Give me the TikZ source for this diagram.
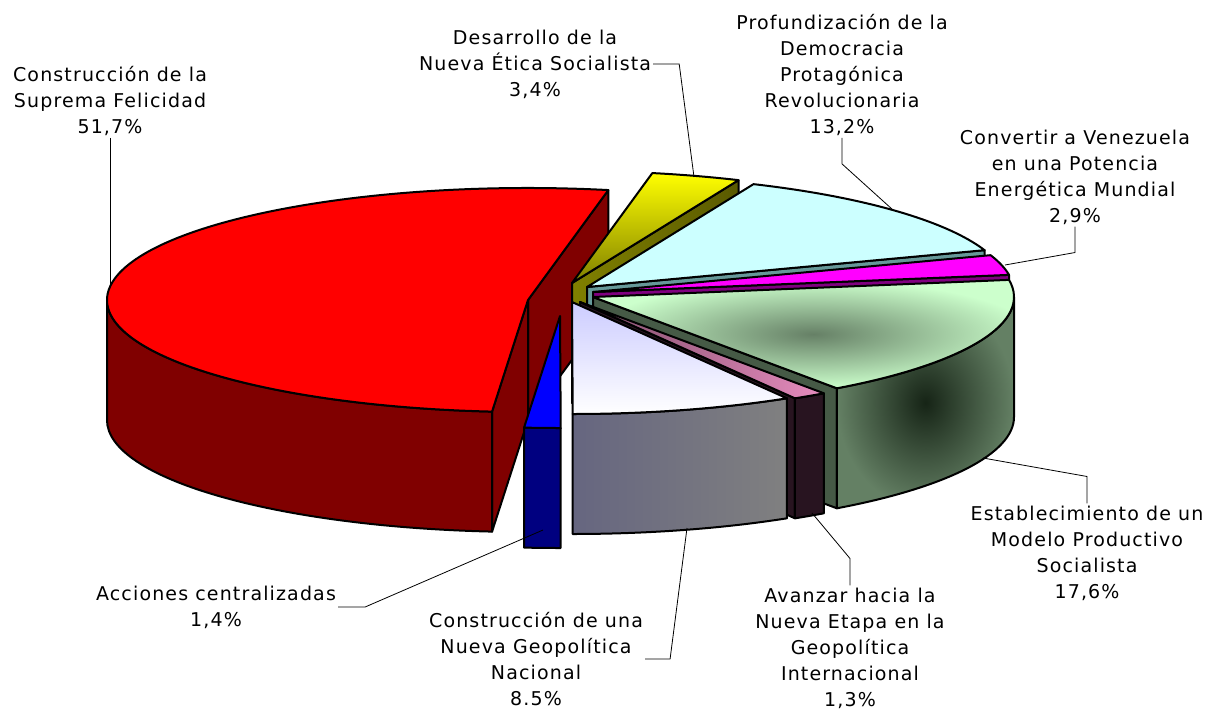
\documentclass[tikz,border=0pt]{standalone}
\usepackage{fontspec}
\newfontfamily\lblfont[LetterSpace=6]{DejaVu Sans}

\definecolor{redtop}{RGB}{255,0,0}
\definecolor{redside}{RGB}{128,0,0}
\definecolor{yeltop}{RGB}{255,255,0}
\definecolor{yelside}{RGB}{128,128,0}
\definecolor{yeldark}{RGB}{90,90,0}
\definecolor{cyantop}{RGB}{204,255,255}
\definecolor{cyanside}{RGB}{102,153,153}
\definecolor{magtop}{RGB}{255,0,255}
\definecolor{magside}{RGB}{128,0,128}
\definecolor{greentop}{RGB}{204,255,204}
\definecolor{greenmid}{RGB}{102,128,102}
\definecolor{greenside}{RGB}{100,128,100}
\definecolor{greendeep}{RGB}{22,36,22}
\definecolor{pinktop}{RGB}{230,140,190}
\definecolor{pinkdark}{RGB}{40,20,32}
\definecolor{pinkmid}{RGB}{128,77,106}
\definecolor{graytop}{RGB}{204,204,255}
\definecolor{grayfrontA}{RGB}{102,102,128}
\definecolor{grayfrontB}{RGB}{128,128,128}
\definecolor{bluetop}{RGB}{0,0,255}
\definecolor{blueside}{RGB}{0,0,128}

\def\pierx{421pt}
\def\piery{112pt}
\def\pieh{120}

\begin{document}
\begin{tikzpicture}[x=1pt, y=-1pt,
    face/.style={draw=black, line width=2pt, line join=round},
    leader/.style={draw=black, line width=0.8pt},
    lbl/.style={font=\lblfont\fontsize{19}{26}\selectfont, align=center, inner sep=2pt}]
        \fill[white] (0,0) rectangle (1207,713);
        \useasboundingbox (0,0) rectangle (1207,713);

        % Construccion de la Suprema Felicidad
        \begin{scope}[shift={(528,300)}]
            \draw[face, fill=redside] (0,0) -- (79:421pt and 112pt) -- ++(0,\pieh) -- (0,\pieh) -- cycle;
            \draw[face, fill=redside] (0,0) -- (265.1:421pt and 112pt) -- ++(0,\pieh) -- (0,\pieh) -- cycle;
            \draw[face, fill=redside] (180:421pt and 112pt) arc[start angle=180, end angle=265.1, x radius=\pierx, y radius=\piery]
                -- ++(0,\pieh) arc[start angle=265.1, end angle=180, x radius=\pierx, y radius=\piery] -- cycle;
            \draw[face, fill=redtop] (0,0) -- (79:421pt and 112pt) arc[start angle=79, end angle=265.1, x radius=\pierx, y radius=\piery] -- cycle;
        \end{scope}

        % Desarrollo de la Nueva Etica Socialista
        \begin{scope}[shift={(572,283)}]
            \draw[face, left color=yelside, right color=yeldark] (0,0) -- (66.7:421pt and 112pt) -- ++(0,\pieh) -- (0,\pieh) -- cycle;
            \draw[face, top color=yeltop, bottom color=yelside] (0,0) -- (66.7:421pt and 112pt) arc[start angle=66.7, end angle=79, x radius=\pierx, y radius=\piery] -- cycle;
        \end{scope}

        % Profundizacion de la Democracia
        \begin{scope}[shift={(587,287)}]
            \draw[face, fill=cyanside] (0,0) -- (19.2:421pt and 112pt) -- ++(0,\pieh) -- (0,\pieh) -- cycle;
            \draw[face, fill=cyantop] (0,0) -- (19.2:421pt and 112pt) arc[start angle=19.2, end angle=66.7, x radius=\pierx, y radius=\piery] -- cycle;
        \end{scope}

        % Convertir a Venezuela en una Potencia
        \begin{scope}[shift={(593,292)}]
            \draw[face, fill=magside] (0,0) -- (8.8:421pt and 112pt) -- ++(0,\pieh) -- (0,\pieh) -- cycle;
            \draw[face, fill=magtop] (0,0) -- (8.8:421pt and 112pt) arc[start angle=8.8, end angle=19.2, x radius=\pierx, y radius=\piery] -- cycle;
        \end{scope}

        % Establecimiento de un Modelo Productivo
        \begin{scope}[shift={(593,297)}]
            \draw[face, fill=greenside!70!black] (0,0) -- (305.4:421pt and 112pt) -- ++(0,\pieh) -- (0,\pieh) -- cycle;
            \draw[face, inner color=greendeep, outer color=greenside] (305.4:421pt and 112pt) arc[start angle=305.4, end angle=360, x radius=\pierx, y radius=\piery]
                -- ++(0,\pieh) arc[start angle=360, end angle=305.4, x radius=\pierx, y radius=\piery] -- cycle;
            \draw[face, inner color=greenmid, outer color=greentop] (0,0) -- (305.4:421pt and 112pt) arc[start angle=305.4, end angle=368.8, x radius=\pierx, y radius=\piery] -- cycle;
        \end{scope}

        % Avanzar hacia la Nueva Etapa
        \begin{scope}[shift={(580,302)}]
            \draw[face, fill=pinkdark] (0,0) -- (300.7:421pt and 112pt) -- ++(0,\pieh) -- (0,\pieh) -- cycle;
            \draw[face, left color=pinkdark, middle color=pinkmid, right color=pinkdark] (300.7:421pt and 112pt) arc[start angle=300.7, end angle=305.4, x radius=\pierx, y radius=\piery]
                -- ++(0,\pieh) arc[start angle=305.4, end angle=300.7, x radius=\pierx, y radius=\piery] -- cycle;
            \draw[face, left color=pinkmid, right color=pinktop] (0,0) -- (300.7:421pt and 112pt) arc[start angle=300.7, end angle=305.4, x radius=\pierx, y radius=\piery] -- cycle;
        \end{scope}

        % Construccion de una Nueva Geopolitica Nacional
        \begin{scope}[shift={(572,302)}]
            \draw[face, left color=grayfrontA, right color=grayfrontB] (270.1:421pt and 112pt) arc[start angle=270.1, end angle=300.7, x radius=\pierx, y radius=\piery]
                -- ++(0,\pieh) arc[start angle=300.7, end angle=270.1, x radius=\pierx, y radius=\piery] -- cycle;
            \draw[face, top color=graytop, bottom color=white] (0,0) -- (270.1:421pt and 112pt) arc[start angle=270.1, end angle=300.7, x radius=\pierx, y radius=\piery] -- cycle;
        \end{scope}

        % Acciones centralizadas
        \begin{scope}[shift={(560,316)}]
            \draw[face, fill=blueside] (265.1:421pt and 112pt) arc[start angle=265.1, end angle=270.1, x radius=\pierx, y radius=\piery]
                -- ++(0,\pieh) arc[start angle=270.1, end angle=265.1, x radius=\pierx, y radius=\piery] -- cycle;
            \draw[face, fill=bluetop] (0,0) -- (265.1:421pt and 112pt) arc[start angle=265.1, end angle=270.1, x radius=\pierx, y radius=\piery] -- cycle;
        \end{scope}

        % Label ends on the slices
        \coordinate (redTip) at (110,285);
        \coordinate (yelTip) at (694,177);
        \coordinate (cyanTip) at (893,210);
        \coordinate (magTip) at (1005,265);
        \coordinate (greenTip) at (983,458);
        \coordinate (pinkTip) at (812,513);
        \coordinate (grayTip) at (687,528);
        \coordinate (blueTip) at (543,530);

        \node[lbl] (lblRed) at (110,101) {Construcción de la\\Suprema Felicidad\\51,7\%};
        \node[lbl] (lblYel) at (535,64) {Desarrollo de la\\Nueva Ética Socialista\\3,4\%};
        \node[lbl] (lblCyan) at (842,75) {Profundización de la\\Democracia\\Protagónica\\Revolucionaria\\13,2\%};
        \node[lbl] (lblMag) at (1075,177) {Convertir a Venezuela\\en una Potencia\\Energética Mundial\\2,9\%};
        \node[lbl] (lblGreen) at (1087,553) {Establecimiento de un\\Modelo Productivo\\Socialista\\17,6\%};
        \node[lbl] (lblPink) at (850,648) {Avanzar hacia la\\Nueva Etapa en la\\Geopolítica\\Internacional\\1,3\%};
        \node[lbl] (lblGray) at (536,659) {Construcción de una\\Nueva Geopolítica\\Nacional\\8.5\%};
        \node[lbl] (lblBlue) at (216,607) {Acciones centralizadas\\1,4\%};

        % Leader lines
        \draw[leader] (lblRed.south) -- (redTip);
        \draw[leader] (lblYel.east) -- ++(26,0) -- (yelTip);
        \draw[leader] (lblCyan.south) -- ++(0,26) -- (cyanTip);
        \draw[leader] (lblMag.south) -- ++(0,26) -- (magTip);
        \draw[leader] (lblGreen.north) -- ++(0,-27) -- (greenTip);
        \draw[leader] (lblPink.north) -- ++(0,-27) -- (pinkTip);
        \draw[leader] (lblGray.east) -- ++(25,0) -- (grayTip);
        \draw[leader] (lblBlue.east) -- ++(27,0) -- (blueTip);
    \end{tikzpicture}
\end{document}
